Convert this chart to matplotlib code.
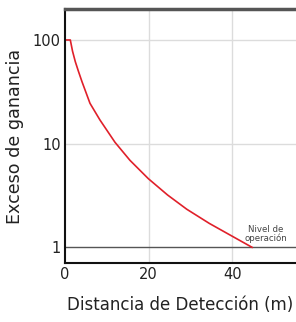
import matplotlib
matplotlib.use("Agg")
import matplotlib.pyplot as plt

# values
distance = [0, 1.27, 1.8, 2.46, 3.2, 4.06, 5.97, 8.36, 11.95, 15.53, 19.9, 24.5, 29.1, 34.5, 39.8, 44.7]
gain = [100, 100, 78, 61.8, 50, 39.6, 24.5, 16.9, 10.3, 6.9, 4.6, 3.2, 2.33, 1.7, 1.29, 1.0]
x_ticks = [0, 20, 40]
y_ticks = [1, 10, 100]
y_tick_labels = ["1", "10", "100"]
op_level = 1

plt.rcParams["font.family"] = ["DejaVu Sans"]

fig = plt.figure(figsize=(2.96, 3.22), dpi=100)
ax = fig.add_axes([65 / 296, 59 / 322, 231 / 296, 254 / 322])

ax.set_yscale("log")
ax.set_xlim(0, 55.2)
ax.set_ylim(0.706, 199)

# grid
for xt in x_ticks[1:]:
    ax.axvline(xt, color="#dcdcdc", lw=1, zorder=0)
for yt in y_ticks[1:]:
    ax.axhline(yt, color="#dcdcdc", lw=1, zorder=0)

# operating level line
ax.axhline(op_level, color="#555555", lw=1, zorder=1)
ax.text(48.0, 1.1, "Nivel de\noperación", fontsize=6.2, color="#444444",
        ha="center", va="bottom", linespacing=0.95)

ax.plot(distance, gain, color="#e0202a", lw=1.2, zorder=2)

ax.set_xticks(x_ticks)
ax.set_yticks(y_ticks)
ax.set_yticklabels(y_tick_labels)
ax.minorticks_off()
ax.tick_params(length=0, labelsize=10.5, colors="#222222", pad=3)

for side in ["left", "bottom"]:
    ax.spines[side].set_color("#111111")
    ax.spines[side].set_linewidth(1.5)
ax.spines["top"].set_color("#555555")
ax.spines["top"].set_linewidth(2.5)
ax.spines["right"].set_visible(False)

ax.set_xlabel("Distancia de Detección (m)", fontsize=12, color="#222222", labelpad=10)
ax.set_ylabel("Exceso de ganancia", fontsize=12.6, color="#222222", labelpad=6)

fig.savefig("out.png", dpi=100)
